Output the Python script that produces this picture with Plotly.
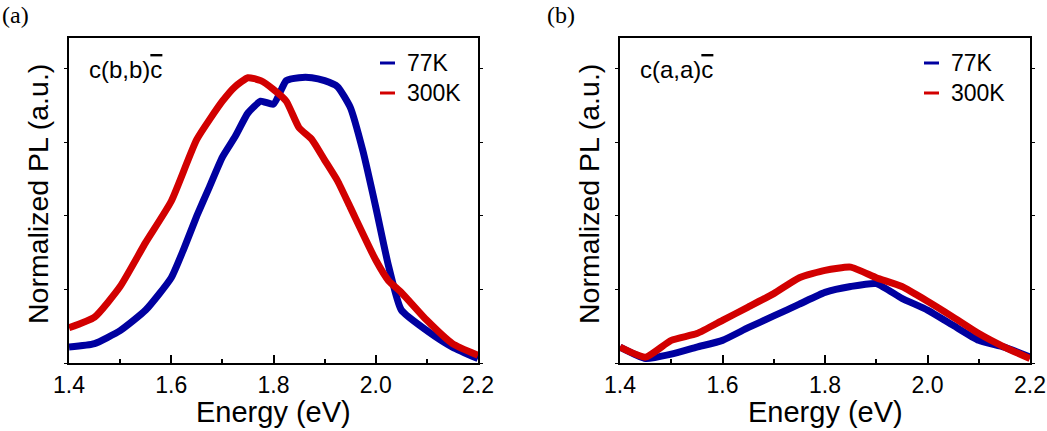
import plotly.graph_objects as go

# Panel (a) c(b,b)c-bar (normalized PL)
energy_a_77 = [1.40, 1.45, 1.50, 1.55, 1.60, 1.625, 1.65, 1.675, 1.70, 1.725, 1.75, 1.775, 1.80,
               1.825, 1.85, 1.875, 1.90, 1.925, 1.95, 1.975, 2.00, 2.025, 2.05, 2.10, 2.15, 2.20]
pl_a_77 = [0.054, 0.066, 0.11, 0.18, 0.29, 0.39, 0.50, 0.60, 0.70, 0.77, 0.85, 0.89, 0.88,
           0.96, 0.97, 0.97, 0.96, 0.94, 0.87, 0.72, 0.53, 0.33, 0.18, 0.11, 0.054, 0.015]

energy_a_300 = [1.40, 1.45, 1.50, 1.55, 1.60, 1.65, 1.70, 1.725, 1.75, 1.775, 1.80, 1.825, 1.85,
                1.875, 1.90, 1.925, 1.95, 2.00, 2.025, 2.05, 2.10, 2.15, 2.20]
pl_a_300 = [0.12, 0.156, 0.26, 0.41, 0.55, 0.76, 0.89, 0.94, 0.97, 0.96, 0.93, 0.89, 0.80,
            0.76, 0.69, 0.62, 0.53, 0.35, 0.28, 0.24, 0.145, 0.066, 0.026]

# Panel (b) c(a,a)c-bar
energy_b = [1.40, 1.45, 1.50, 1.55, 1.60, 1.65, 1.70, 1.75, 1.80, 1.85, 1.90, 1.95, 2.00,
            2.05, 2.10, 2.15, 2.20]
pl_b_77 = [0.054, 0.015, 0.03, 0.054, 0.077, 0.12, 0.16, 0.20, 0.24, 0.26, 0.27, 0.22, 0.18,
           0.128, 0.077, 0.054, 0.02]
pl_b_300 = [0.054, 0.02, 0.077, 0.10, 0.145, 0.19, 0.236, 0.29, 0.315, 0.326, 0.29, 0.26, 0.21,
            0.156, 0.10, 0.054, 0.015]

series_names = ["77K", "300K"]
blue = "rgb(0,0,160)"
red = "rgb(210,0,0)"
font_sans = "Liberation Sans, Arial, sans-serif"
font_serif = "Liberation Serif, Times New Roman, serif"

W, H = 1047, 431
# plot areas in pixels (left, right), (top, bottom)
dom_a = (69, 478)
dom_b = (620, 1030)
top_px, bot_px = 38, 363

def fx(px):
    return px / W

def fy(py):
    return 1 - py / H

fig = go.Figure()

line_style = dict(width=7, shape="spline", smoothing=0.5)
fig.add_trace(go.Scatter(x=energy_a_77, y=pl_a_77, mode="lines", line=dict(color=blue, **line_style),
                         xaxis="x", yaxis="y", showlegend=False))
fig.add_trace(go.Scatter(x=energy_a_300, y=pl_a_300, mode="lines", line=dict(color=red, **line_style),
                         xaxis="x", yaxis="y", showlegend=False))
fig.add_trace(go.Scatter(x=energy_b, y=pl_b_77, mode="lines", line=dict(color=blue, **line_style),
                         xaxis="x2", yaxis="y2", showlegend=False))
fig.add_trace(go.Scatter(x=energy_b, y=pl_b_300, mode="lines", line=dict(color=red, **line_style),
                         xaxis="x2", yaxis="y2", showlegend=False))

ydom = [fy(bot_px), fy(top_px)]

def xaxis_bottom(dom, anchor):
    return dict(domain=[fx(dom[0]), fx(dom[1])], anchor=anchor, range=[1.4, 2.2],
                tickmode="array", tickvals=[1.4, 1.6, 1.8, 2.0, 2.2],
                ticktext=["1.4", "1.6", "1.8", "2.0", "2.2"],
                ticks="inside", ticklen=8, tickwidth=1.5, tickcolor="black",
                minor=dict(dtick=0.1, tick0=1.4, ticks="inside", ticklen=4, tickwidth=1.5, tickcolor="black"),
                showline=True, linecolor="black", linewidth=2, mirror=True,
                showgrid=False, zeroline=False, automargin=False,
                tickfont=dict(family=font_sans, size=23, color="black"))

def xaxis_top(dom, overlay, anchor):
    return dict(domain=[fx(dom[0]), fx(dom[1])], overlaying=overlay, anchor=anchor, side="top",
                range=[1.4, 2.2], dtick=0.1, tick0=1.4, ticks="outside", ticklen=3,
                tickwidth=1, tickcolor="black", showticklabels=False, automargin=False,
                showgrid=False, zeroline=False, showline=False)

def yaxis(anchor):
    return dict(domain=ydom, anchor=anchor, range=[0, 1.105], dtick=0.25, tick0=0,
                ticks="outside", ticklen=3, tickwidth=1, tickcolor="black",
                showticklabels=False, showline=True, linecolor="black", linewidth=2,
                mirror="ticks", showgrid=False, zeroline=False, automargin=False)

fig.update_layout(
    width=W, height=H,
    margin=dict(l=0, r=0, t=0, b=0, autoexpand=False),
    paper_bgcolor="white", plot_bgcolor="white",
    xaxis=xaxis_bottom(dom_a, "y"),
    xaxis2=xaxis_bottom(dom_b, "y2"),
    xaxis3=xaxis_top(dom_a, "x", "y"),
    xaxis4=xaxis_top(dom_b, "x2", "y2"),
    yaxis=yaxis("x"),
    yaxis2=yaxis("x2"),
    showlegend=False,
)

annotations = []
shapes = []
# label, label x, plot area, geometry text, y-title x, legend line x
panels = [("(a)", 0, dom_a, "c(b,b)", 38, 380), ("(b)", 545, dom_b, "c(a,a)", 589, 924)]
for label, lx, dom, geom, ytitle_x, leg_x in panels:
    annotations.append(dict(text=label, x=fx(lx), y=fy(15), xref="paper", yref="paper",
                            xanchor="left", yanchor="middle", showarrow=False,
                            font=dict(family=font_serif, size=24, color="black")))
    annotations.append(dict(text=geom + "<span style='text-decoration:overline'>c</span>",
                            x=fx(dom[0] + 18), y=fy(70), xref="paper", yref="paper",
                            xanchor="left", yanchor="middle", showarrow=False,
                            font=dict(family=font_sans, size=24, color="black")))
    annotations.append(dict(text="Normalized PL (a.u.)", x=fx(ytitle_x), y=fy(194),
                            xref="paper", yref="paper", xanchor="center", yanchor="middle",
                            textangle=-90, showarrow=False,
                            font=dict(family=font_sans, size=28.5, color="black")))
    annotations.append(dict(text="Energy (eV)", x=fx((dom[0] + dom[1]) / 2), y=fy(412),
                            xref="paper", yref="paper", xanchor="center", yanchor="middle",
                            showarrow=False, font=dict(family=font_sans, size=29, color="black")))
    # legend entries
    for name, col, ly in zip(series_names, [blue, red], [63, 93]):
        shapes.append(dict(type="line", xref="paper", yref="paper",
                           x0=fx(leg_x), x1=fx(leg_x + 15), y0=fy(ly), y1=fy(ly),
                           line=dict(color=col, width=3)))
        annotations.append(dict(text=name, x=fx(leg_x + 25), y=fy(ly), xref="paper", yref="paper",
                                xanchor="left", yanchor="middle", showarrow=False,
                                font=dict(family=font_sans, size=23, color="black")))

fig.update_layout(annotations=annotations, shapes=shapes)

# drop the browser's default 8px body margin so the figure sits at the page corner
fig.write_html("out.html", config={"displayModeBar": False},
               post_script="document.body.style.margin='0px';")
